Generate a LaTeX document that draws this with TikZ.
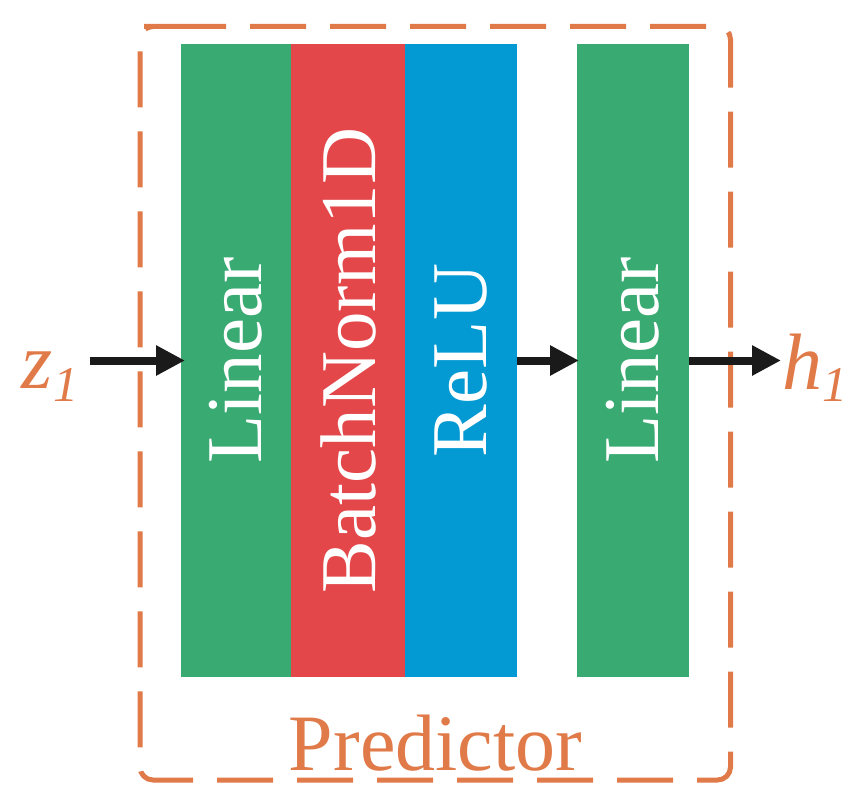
\documentclass[tikz,border=0pt]{standalone}
\usepackage{fontspec}
\setmainfont{Liberation Serif}
\usetikzlibrary{arrows.meta}
\definecolor{lingreen}{RGB}{58,170,115}
\definecolor{bnred}{RGB}{227,71,74}
\definecolor{relublue}{RGB}{3,153,210}
\definecolor{boxorange}{RGB}{224,122,72}
\definecolor{arrowblack}{RGB}{26,26,26}
\tikzset{
  bar/.style={draw=none, inner sep=0pt, outer sep=0pt, minimum height=633pt},
  barlbl/.style={text=white, inner sep=0pt, rotate=90, font=\fontsize{79}{90}\selectfont},
  orlbl/.style={text=boxorange, inner sep=0pt, font=\fontsize{80}{90}\selectfont},
  arr/.style={draw=arrowblack, line width=8pt, -{Triangle[length=29pt,width=28.5pt]}},
  dashbox/.style={draw=boxorange, line width=5pt, dash pattern=on 56pt off 24pt, rounded corners=13pt}
}
\begin{document}
\begin{tikzpicture}[x=1pt,y=-1pt]
\useasboundingbox (0,0) rectangle (861,800);
% predictor box
\draw[dashbox] (157,26.5) -- (730.5,26.5) -- (730.5,780) -- (140,780) -- (140,26.5) -- cycle;
% bars
\node[bar, fill=lingreen, minimum width=110pt] (lin1) at (236,360.5) {};
\node[bar, fill=bnred, minimum width=114pt] (bn) at (348,360.5) {};
\node[bar, fill=relublue, minimum width=111.5pt] (relu) at (460.75,360.5) {};
\node[bar, fill=lingreen, minimum width=112pt] (lin2) at (633,360.5) {};
% bar labels
\node[barlbl] (t1) at (lin1) {Linear};
\node[barlbl] (t2) at (bn) {BatchNorm1D};
\node[barlbl] (t3) at (relu) {ReLU};
\node[barlbl] (t4) at (lin2) {Linear};
% outer labels
\node[orlbl, anchor=base west] (z1) at (21,388) {\itshape z\kern1pt\raisebox{-13pt}{\fontsize{50}{50}\selectfont 1}};
\node[orlbl, anchor=base west] (h1) at (782,389) {\itshape h\raisebox{-12pt}{\fontsize{50}{50}\selectfont 1}};
\node[orlbl, anchor=base] (pred) at (435.5,770) {Predictor};
% arrows
\coordinate (zin) at (90,360.5);
\coordinate (hout) at (781,360.5);
\draw[arr, shorten >=-4pt] (zin) -- (lin1.west);
\draw[arr, shorten >=-2pt] (relu.east) -- (lin2.west);
\draw[arr] (lin2.east) -- (hout);
\end{tikzpicture}
\end{document}
